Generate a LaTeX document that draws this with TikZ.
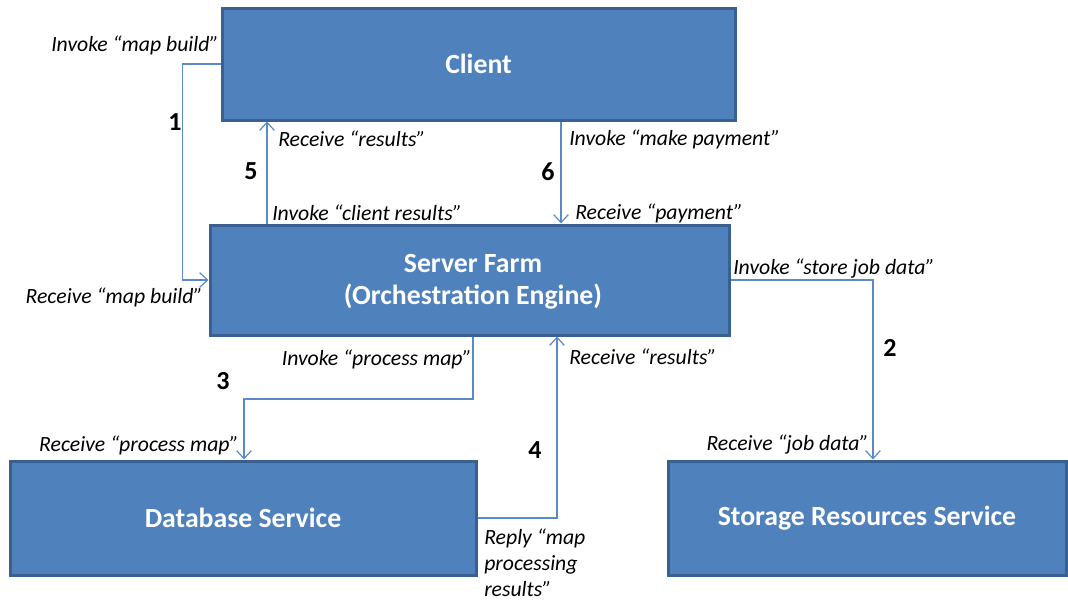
\documentclass[tikz,border=0pt]{standalone}
\usepackage{fontspec}
\setmainfont{Carlito}
\usetikzlibrary{arrows.meta}
\definecolor{boxfill}{HTML}{4F81BD}
\definecolor{boxborder}{HTML}{3A6090}
\definecolor{linkcol}{HTML}{5A8ACB}
\tikzset{
  svc/.style={draw=boxborder, line width=2.25pt, fill=boxfill, text=white,
    font=\fontsize{20.8}{24}\selectfont\bfseries, align=center, inner sep=0pt},
  link/.style={draw=linkcol, line width=0.9pt, -{Straight Barb[length=6pt,width=11pt]}},
  lbl/.style={font=\fontsize{16.3}{19}\selectfont\itshape, inner sep=0pt},
  num/.style={font=\fontsize{19.5}{22}\selectfont\bfseries, inner sep=0pt},
}
\begin{document}
\begin{tikzpicture}[x=0.75pt,y=-0.75pt]
\useasboundingbox (0,0) rectangle (1068,603);
% boxes
\node[svc, minimum width=384.75pt, minimum height=84pt] (client) at (478.5,64) {Client};
\node[svc, minimum width=389.25pt, minimum height=82.5pt] (server) at (469.5,280) {};
\node[font=\fontsize{20.8}{24}\selectfont\bfseries, text=white, align=center, inner sep=0pt] (servertext) at (473,282) {Server Farm\\[0pt](Orchestration Engine)};
\node[svc, minimum width=349.5pt, minimum height=85.5pt] (db) at (243,518) {Database Service};
\node[svc, minimum width=298.5pt, minimum height=85.5pt] (store) at (867,518) {Storage Resources Service};
% connectors
\draw[link] (client.west) -- ++(-38,0) |- (server.west);
\draw[link] (server.north -| 267,0) -- (client.south -| 267,0);
\draw[link] (client.south -| 561,0) -- (server.north -| 561,0);
\draw[link] (server.east) -| (store.north -| 873,0);
\draw[link] (server.south -| 473,0) -- (473,399) -| (db.north -| 244,0);
\draw[link] (db.east) -| (server.south -| 557,0);
% labels
\node[lbl, anchor=east] (l1a) at (219,45) {Invoke “map build”};
\node[num] (n1) at (175,122) {1};
\node[lbl, anchor=east] (l1b) at (203,297) {Receive “map build”};
\node[lbl, anchor=west] (l5a) at (278,139) {Receive “results”};
\node[num] (n5) at (251,171) {5};
\node[lbl, anchor=west] (l5b) at (272,213) {Invoke “client results”};
\node[lbl, anchor=west] (l6a) at (569,139) {Invoke “make payment”};
\node[num] (n6) at (548,172) {6};
\node[lbl, anchor=west] (l6b) at (575,213) {Receive “payment”};
\node[lbl, anchor=west] (l2a) at (733,269) {Invoke “store job data”};
\node[num] (n2) at (890,348) {2};
\node[lbl, anchor=east] (l2b) at (869,445) {Receive “job data”};
\node[lbl, anchor=east] (l3a) at (472,359) {Invoke “process map”};
\node[num] (n3) at (223,381) {3};
\node[lbl, anchor=east] (l3b) at (239,445) {Receive “process map”};
\node[lbl, anchor=west] (l4a) at (569,357) {Receive “results”};
\node[num] (n4) at (535,450) {4};
\node[lbl, anchor=north west, align=left, font=\fontsize{16.3}{19.5}\selectfont\itshape] (l4b) at (484,529) {Reply “map\\processing\\results”};
\end{tikzpicture}
\end{document}
